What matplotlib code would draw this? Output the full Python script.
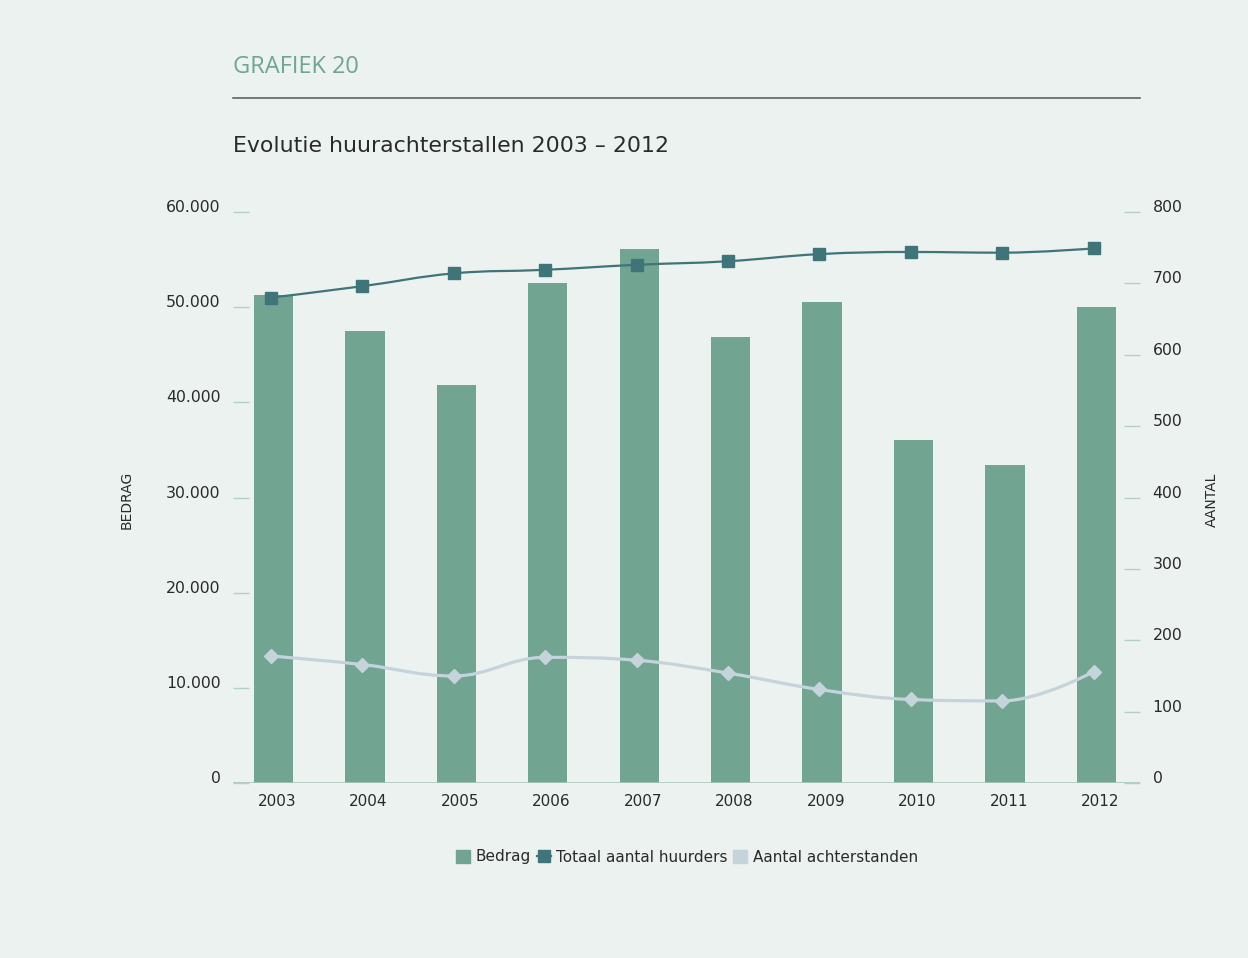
import numpy as np
import matplotlib
matplotlib.use("Agg")
import matplotlib.pyplot as plt
from matplotlib.path import Path
from matplotlib.patches import PathPatch, Patch
from matplotlib.lines import Line2D

# data
jaren = ['2003', '2004', '2005', '2006', '2007', '2008', '2009', '2010', '2011', '2012']
bedrag = [51240, 47450, 41870, 52500, 56080, 46820, 50500, 36090, 33460, 49970]
totaal_huurders = [680, 696, 714, 719, 726, 731, 741, 744, 743, 749]
aantal_achterstanden = [178, 166, 150, 176, 172, 154, 131, 117, 115, 156]

bg = '#ECF2EF'
c_bedrag = '#71A592'
c_totaal = '#3F7478'
c_aantal = '#C5D3DB'
c_tick = '#B3D1C3'
c_text = '#2A2A2A'

plt.rcParams['font.family'] = 'DejaVu Sans'


def spline_path(xs, ys, smoothing=1.5):
    # smooth curve through the points, cubic bezier segments
    denom = smoothing + 1
    n = len(xs)
    left = [None] * n
    right = [None] * n
    for i in range(n):
        x, y = xs[i], ys[i]
        if 0 < i < n - 1:
            lx, ly = xs[i - 1], ys[i - 1]
            nx, ny = xs[i + 1], ys[i + 1]
            lcx = (smoothing * x + lx) / denom
            lcy = (smoothing * y + ly) / denom
            rcx = (smoothing * x + nx) / denom
            rcy = (smoothing * y + ny) / denom
            corr = (rcy - lcy) * (rcx - x) / (rcx - lcx) + y - rcy
            lcy += corr
            rcy += corr
            if lcy > ly and lcy > y:
                lcy = max(ly, y)
                rcy = 2 * y - lcy
            elif lcy < ly and lcy < y:
                lcy = min(ly, y)
                rcy = 2 * y - lcy
            if rcy > ny and rcy > y:
                rcy = max(ny, y)
                lcy = 2 * y - rcy
            elif rcy < ny and rcy < y:
                rcy = min(ny, y)
                lcy = 2 * y - rcy
            left[i] = (lcx, lcy)
            right[i] = (rcx, rcy)
        else:
            left[i] = (x, y)
            right[i] = (x, y)
    verts = [(xs[0], ys[0])]
    codes = [Path.MOVETO]
    for i in range(1, n):
        verts += [right[i - 1], left[i], (xs[i], ys[i])]
        codes += [Path.CURVE4] * 3
    return Path(verts, codes)


fig = plt.figure(figsize=(12.48, 9.58), dpi=100, facecolor=bg)
ax = fig.add_axes([233 / 1248, 1 - 783 / 958, (1140 - 233) / 1248, (783 - 212) / 958])
ax2 = ax.twinx()
ax.set_facecolor(bg)

x = np.arange(len(jaren))

ax.bar(x, bedrag, width=0.43, color=c_bedrag, zorder=2)
ax.set_ylim(0, 60000)
ax.set_xlim(-0.443, 9.476)
ax2.set_ylim(0, 800)

xl = x - 0.03
p1 = spline_path(xl, totaal_huurders)
ax2.add_patch(PathPatch(p1, facecolor='none', edgecolor=c_totaal, lw=1.6, zorder=3))
ax2.plot(xl, totaal_huurders, ls='none', marker='s', ms=8, color=c_totaal, zorder=4)

p2 = spline_path(xl, aantal_achterstanden)
ax2.add_patch(PathPatch(p2, facecolor='none', edgecolor=c_aantal, lw=2.3, zorder=3))
ax2.plot(xl, aantal_achterstanden, ls='none', marker='D', ms=7, color=c_aantal, zorder=4)

# spines and ticks
for a in (ax, ax2):
    for s in a.spines.values():
        s.set_visible(False)
ax.axhline(0, color='#A9C7B9', lw=1.2, zorder=5)

ax.set_xticks(x + 0.04)
ax.set_xticklabels(jaren)
ax.tick_params(axis='x', length=0, pad=8, labelsize=11, labelcolor=c_text)

ax.set_yticks(np.arange(0, 60001, 10000))
ax.set_yticklabels(['0'] + ['{:.3f}'.format(v / 1000) for v in range(10000, 60001, 10000)])
ax.tick_params(axis='y', direction='in', length=11.5, width=1.0, color=c_tick,
               pad=9, labelsize=11.3, labelcolor=c_text)
ax2.set_yticks(np.arange(0, 801, 100))
ax2.tick_params(axis='y', direction='in', length=11.5, width=1.0, color=c_tick,
                pad=9, labelsize=11.3, labelcolor=c_text)

# labels sit a little above their tick marks
for lab in ax.get_yticklabels() + ax2.get_yticklabels():
    lab.set_verticalalignment('baseline')

fig.text(127 / 1248, 1 - 500 / 958, 'BEDRAG', rotation=90, ha='center', va='center',
         fontsize=10, color=c_text)
fig.text(1212 / 1248, 1 - 500 / 958, 'AANTAL', rotation=90, ha='center', va='center',
         fontsize=10, color=c_text)

# header
fig.text(233 / 1248, 1 - 67 / 958, 'GRAFIEK 20', ha='left', va='center',
         fontsize=17, color='#6FA592', family='Open Sans')
fig.add_artist(Line2D([233 / 1248, 1140 / 1248], [1 - 98 / 958] * 2, color='#555555', lw=1.1))
fig.text(233 / 1248, 1 - 146 / 958, 'Evolutie huurachterstallen 2003 \u2013 2012', ha='left',
         va='center', fontsize=15.8, color=c_text)

handles = [Patch(color=c_bedrag),
           Line2D([0], [0], color=c_totaal, lw=1.6, marker='s', ms=8),
           Patch(color=c_aantal)]
fig.legend(handles, ['Bedrag', 'Totaal aantal huurders', 'Aantal achterstanden'],
           loc='center', bbox_to_anchor=(687 / 1248, 1 - 857 / 958), ncol=3, frameon=False,
           fontsize=11, handlelength=0.9, handleheight=0.9, handletextpad=0.35,
           columnspacing=0.4, labelcolor=c_text)

fig.savefig('out.png', dpi=100, facecolor=bg)
